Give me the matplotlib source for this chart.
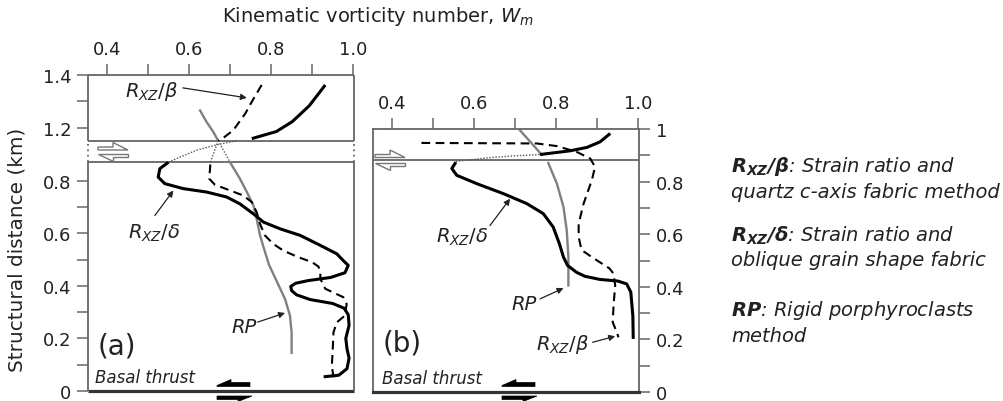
import numpy as np
import matplotlib
matplotlib.use("Agg")
import matplotlib.pyplot as plt
from matplotlib.patches import Polygon

plt.rcParams["font.family"] = ["DejaVu Sans"]
plt.rcParams["mathtext.fontset"] = "custom"
plt.rcParams["mathtext.it"] = "DejaVu Sans:italic"
plt.rcParams["mathtext.rm"] = "DejaVu Sans"
plt.rcParams["mathtext.bf"] = "DejaVu Sans:italic:bold"

# ---------------- data (Wm vs structural distance, km) ----------------
# Panel (a)
a_delta_low_x = [0.550, 0.529, 0.525, 0.541, 0.586, 0.643, 0.692, 0.724, 0.757, 0.781,
                 0.822, 0.871, 0.920, 0.960, 0.976, 0.988, 0.980, 0.945, 0.890, 0.860,
                 0.848, 0.850, 0.862, 0.895, 0.950, 0.978, 0.988, 0.990, 0.982, 0.985,
                 0.990, 0.985, 0.965, 0.928]
a_delta_low_y = [0.871, 0.846, 0.814, 0.789, 0.770, 0.757, 0.738, 0.712, 0.674, 0.643,
                 0.617, 0.592, 0.554, 0.522, 0.496, 0.478, 0.450, 0.432, 0.420, 0.410,
                 0.398, 0.382, 0.366, 0.348, 0.333, 0.315, 0.290, 0.250, 0.200, 0.160,
                 0.125, 0.085, 0.060, 0.054]
a_delta_up_x = [0.753, 0.813, 0.852, 0.893, 0.932]
a_delta_up_y = [1.158, 1.185, 1.223, 1.283, 1.362]
a_delta_gap_x = [0.550, 0.578, 0.619, 0.667, 0.716]
a_delta_gap_y = [0.871, 0.938, 1.028, 1.096, 1.150]

a_beta_low_x = [0.652, 0.651, 0.649, 0.663, 0.700, 0.732, 0.753, 0.765, 0.773, 0.785,
                0.805, 0.830, 0.865, 0.900, 0.915, 0.920, 0.920, 0.932, 0.976, 0.984,
                0.980, 0.960, 0.952, 0.950, 0.948, 0.952]
a_beta_low_y = [0.862, 0.839, 0.808, 0.785, 0.763, 0.744, 0.719, 0.680, 0.636, 0.592,
                0.560, 0.534, 0.510, 0.490, 0.474, 0.458, 0.427, 0.389, 0.357, 0.331,
                0.287, 0.261, 0.223, 0.150, 0.096, 0.052]
a_beta_up_x = [0.777, 0.757, 0.737, 0.708, 0.683, 0.671]
a_beta_up_y = [1.362, 1.309, 1.253, 1.190, 1.160, 1.150]
a_beta_gap_x = [0.671, 0.652]
a_beta_gap_y = [1.150, 0.870]

a_rp_x = [0.700, 0.724, 0.741, 0.757, 0.765, 0.773, 0.785, 0.795, 0.810, 0.834, 0.846, 0.850, 0.850]
a_rp_y = [0.871, 0.808, 0.757, 0.706, 0.655, 0.592, 0.530, 0.480, 0.430, 0.350, 0.287, 0.223, 0.145]
a_rp_up_x = [0.627, 0.643, 0.659, 0.671]
a_rp_up_y = [1.265, 1.221, 1.184, 1.150]
a_rp_gap_x = [0.671, 0.700]
a_rp_gap_y = [1.150, 0.871]

# Panel (b)
b_delta_low_x = [0.556, 0.546, 0.558, 0.607, 0.672, 0.729, 0.769, 0.793, 0.808, 0.818,
                 0.828, 0.850, 0.870, 0.907, 0.950, 0.972, 0.982, 0.987, 0.988]
b_delta_low_y = [0.874, 0.850, 0.824, 0.792, 0.754, 0.716, 0.678, 0.627, 0.564, 0.513,
                 0.481, 0.455, 0.440, 0.428, 0.422, 0.411, 0.380, 0.290, 0.202]
b_delta_up_x = [0.761, 0.834, 0.875, 0.907, 0.932]
b_delta_up_y = [0.903, 0.917, 0.930, 0.951, 0.983]
b_delta_gap_x = [0.556, 0.631, 0.700, 0.761]
b_delta_gap_y = [0.877, 0.890, 0.898, 0.903]

b_beta_x = [0.472, 0.753, 0.802, 0.850, 0.883, 0.895, 0.887, 0.867, 0.855, 0.855,
            0.862, 0.890, 0.930, 0.940, 0.944, 0.940, 0.938, 0.948, 0.952]
b_beta_y = [0.947, 0.945, 0.935, 0.913, 0.888, 0.856, 0.805, 0.716, 0.640, 0.589,
            0.540, 0.510, 0.470, 0.450, 0.405, 0.329, 0.265, 0.227, 0.208]

b_rp_x = [0.712, 0.738, 0.765, np.nan, 0.781, 0.802, 0.818, 0.826, 0.830, 0.830]
b_rp_y = [0.995, 0.950, 0.902, np.nan, 0.871, 0.792, 0.704, 0.614, 0.513, 0.405]

# axis ticks / labels
x_major = [0.4, 0.6, 0.8, 1.0]
x_minor = [0.5, 0.7, 0.9]
a_y_major = [0, 0.2, 0.4, 0.6, 0.8, 1.2, 1.4]
a_y_minor = [0.1, 0.3, 0.5, 0.7, 1.3]
b_y_major = [0, 0.2, 0.4, 0.6, 0.8, 1.0]
b_y_minor = [0.1, 0.3, 0.5, 0.7, 0.9]

legend_lines = [
    (r"$\mathbf{R_{XZ}/\beta}$: Strain ratio and", 171.5),
    ("quartz c-axis fabric method", 197.5),
    (r"$\mathbf{R_{XZ}/\delta}$: Strain ratio and", 241.5),
    ("oblique grain shape fabric", 266.5),
    (r"$\mathbf{RP}$: Rigid porphyroclasts", 316.5),
    ("method", 342.5),
]

# ---------------- figure ----------------
W, H = 1004, 402
fig = plt.figure(figsize=(W / 100, H / 100), dpi=100)


def fx(px):
    return px / W


def fy(py):
    return 1 - py / H


FRAME = "#666666"
TXT = "#222222"
GREY = "#808080"
XL = (0.354, 1.002)

# broken y-scale for panel (a)
GLO, GHI, C = 0.87, 1.15, 0.294


def fwd(y):
    y = np.asarray(y, float)
    return np.where(y <= GLO, y,
                    np.where(y <= GHI, GLO + (y - GLO) * C, GLO + (GHI - GLO) * C + (y - GHI)))


def inv(u):
    u = np.asarray(u, float)
    u1 = GLO
    u2 = GLO + (GHI - GLO) * C
    return np.where(u <= u1, u, np.where(u <= u2, GLO + (u - u1) / C, GHI + (u - u2)))


axA = fig.add_axes([88 / W, 1 - 392 / H, 266 / W, 316 / H])
axB = fig.add_axes([373 / W, 1 - 393 / H, 266 / W, 263 / H])

solid_kw = dict(color="black", lw=2.2, solid_capstyle="butt")
dash_kw = dict(color="black", lw=1.5, dashes=(4.2, 2.6))
grey_kw = dict(color=GREY, lw=1.7)
dot_kw = dict(color="#555555", lw=1.0, ls=(0, (1, 1.2)))

# ---- panel (a)
axA.set_yscale("function", functions=(fwd, inv))
axA.set_xlim(*XL)
axA.set_ylim(0, 1.4)
for s in axA.spines.values():
    s.set_visible(False)
axA.hlines([1.4, GHI, GLO], XL[0], XL[1], color=FRAME, lw=1.3, clip_on=False)
axA.hlines(0, XL[0], XL[1], color="#333333", lw=2.3, clip_on=False)
axA.vlines(XL, GHI, 1.4, color=FRAME, lw=1.3, clip_on=False)
axA.vlines(XL, 0, GLO, color=FRAME, lw=1.3, clip_on=False)
axA.vlines(XL, GLO, GHI, color=FRAME, lw=1.3, linestyles=(0, (1, 2)), clip_on=False)

axA.plot(a_delta_gap_x, a_delta_gap_y, **dot_kw)
axA.plot(a_beta_gap_x, a_beta_gap_y, **dot_kw)
axA.plot(a_rp_gap_x, a_rp_gap_y, **dot_kw)
axA.plot(a_rp_x, a_rp_y, **grey_kw)
axA.plot(a_rp_up_x, a_rp_up_y, **grey_kw)
axA.plot(a_beta_low_x, a_beta_low_y, **dash_kw)
axA.plot(a_beta_up_x, a_beta_up_y, **dash_kw)
axA.plot(a_delta_low_x, a_delta_low_y, **solid_kw)
axA.plot(a_delta_up_x, a_delta_up_y, **solid_kw)

axA.set_yticks(a_y_major)
axA.set_yticks(a_y_minor, minor=True)
axA.set_yticklabels(["0" if v == 0 else f"{v:.1f}" for v in a_y_major])

# ---- panel (b)
axB.set_xlim(*XL)
axB.set_ylim(0, 1.0)
for k, s in axB.spines.items():
    s.set_color(FRAME)
    s.set_linewidth(1.3)
axB.spines["bottom"].set_color("#333333")
axB.spines["bottom"].set_linewidth(2.3)
axB.axhline(0.882, color=FRAME, lw=1.3)

axB.plot(b_delta_gap_x, b_delta_gap_y, **dot_kw)
axB.plot(b_rp_x, b_rp_y, **grey_kw)
axB.plot(b_beta_x, b_beta_y, **dash_kw)
axB.plot(b_delta_low_x, b_delta_low_y, **solid_kw)
axB.plot(b_delta_up_x, b_delta_up_y, **solid_kw)

axB.yaxis.set_ticks_position("right")
axB.set_yticks(b_y_major)
axB.set_yticks(b_y_minor, minor=True)
axB.set_yticklabels(["0" if v == 0 else ("1" if v == 1 else f"{v:.1f}") for v in b_y_major])

for ax in (axA, axB):
    ax.xaxis.set_ticks_position("top")
    ax.set_xticks(x_major)
    ax.set_xticks(x_minor, minor=True)
    ax.set_xticklabels([f"{v:.1f}" for v in x_major])
    ax.tick_params(axis="both", which="both", direction="out", length=8, width=1.1,
                   color=FRAME, labelsize=13, labelcolor=TXT, pad=4)
    ax.set_facecolor("none")

# ---- annotations
arrow_kw = dict(arrowstyle="-|>", lw=0.9, color="#222222", mutation_scale=9,
                shrinkA=0, shrinkB=0)
lab_kw = dict(fontsize=14, color=TXT, ha="center", va="center", style="italic")

axA.text(0.51, 1.34, r"$R_{XZ}\mathit{/}\beta$", **lab_kw)
axA.annotate("", xy=(0.741, 1.313), xytext=(0.585, 1.351), arrowprops=arrow_kw)
axA.text(0.515, 0.602, r"$R_{XZ}\mathit{/}\delta$", **lab_kw)
axA.annotate("", xy=(0.562, 0.763), xytext=(0.517, 0.668), arrowprops=arrow_kw)
axA.text(0.734, 0.244, "RP", **lab_kw)
axA.annotate("", xy=(0.834, 0.297), xytext=(0.767, 0.262), arrowprops=arrow_kw)
axA.text(0.424, 0.175, "(a)", fontsize=20, color=TXT, ha="center", va="center")
axA.text(0.371, 0.053, "Basal thrust", fontsize=12, color=TXT, ha="left", va="center",
         style="italic")

axB.text(0.571, 0.590, r"$R_{XZ}\mathit{/}\delta$", **lab_kw)
axB.annotate("", xy=(0.688, 0.735), xytext=(0.639, 0.633), arrowprops=arrow_kw)
axB.text(0.722, 0.335, "RP", **lab_kw)
axB.annotate("", xy=(0.818, 0.395), xytext=(0.761, 0.354), arrowprops=arrow_kw)
axB.text(0.817, 0.183, r"$R_{XZ}\mathit{/}\beta$", **lab_kw)
axB.annotate("", xy=(0.944, 0.212), xytext=(0.889, 0.189), arrowprops=arrow_kw)
axB.text(0.424, 0.19, "(b)", fontsize=20, color=TXT, ha="center", va="center")
axB.text(0.375, 0.053, "Basal thrust", fontsize=12, color=TXT, ha="left", va="center",
         style="italic")


# ---- shear-sense symbols (figure pixel coordinates)
def poly_px(pts, dx=0.0, dy=0.0, **kw):
    xy = [(fx(px + dx), fy(py + dy)) for px, py in pts]
    fig.add_artist(Polygon(xy, closed=True, transform=fig.transFigure, **kw))


hollow_r = [(98, 148), (113, 148), (113, 143.5), (128, 151), (98, 151)]
hollow_l = [(98, 154.5), (128, 154.5), (128, 157.5), (113, 157.5), (113, 162)]
hkw = dict(facecolor="white", edgecolor="#777777", lw=1.0, zorder=5)
poly_px(hollow_r, **hkw)
poly_px(hollow_l, **hkw)
poly_px(hollow_r, dx=277, dy=7.5, **hkw)
poly_px(hollow_l, dx=277, dy=9, **hkw)

thrust_top = [(217, 386.5), (231, 380.5), (231, 383.5), (250, 383.5), (250, 387.5), (217, 387.5)]
thrust_bot = [(217, 397), (252, 397), (238, 402.5), (238, 400.5), (217, 400.5)]
tkw = dict(facecolor="black", edgecolor="black", lw=0.5, zorder=5)
for d in (0, 285):
    poly_px(thrust_top, dx=d, **tkw)
    poly_px(thrust_bot, dx=d, **tkw)

# ---- titles and legend text
fig.text(fx(378), fy(17), "Kinematic vorticity number, $W_m$", ha="center", va="center",
         fontsize=14, color=TXT)
fig.text(fx(17), fy(250), "Structural distance (km)", rotation=90, ha="center", va="center",
         fontsize=14.4, color=TXT)
for txt, base in legend_lines:
    fig.text(fx(731), fy(base), txt, ha="left", va="baseline", fontsize=14,
             style="italic", color=TXT)

fig.savefig("out.png", dpi=100)
